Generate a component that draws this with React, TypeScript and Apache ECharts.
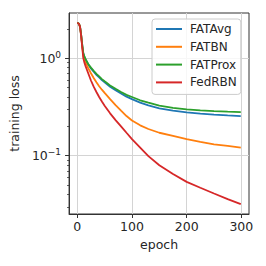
import React, { useEffect, useRef } from "react";
import * as echarts from "echarts";

const epochs = [0, 3, 5, 7, 9, 11, 13, 15, 20, 25, 30, 35, 40, 45, 50, 60, 70, 80, 90, 100, 115, 130, 150, 175, 200, 225, 250, 275, 299];

const fatAvg = [2.3, 2.25, 2.1, 1.75, 1.37, 1.12, 1.03, 0.97, 0.86, 0.785, 0.725, 0.675, 0.635, 0.595, 0.565, 0.51, 0.47, 0.435, 0.403, 0.38, 0.35, 0.328, 0.306, 0.29, 0.278, 0.27, 0.264, 0.259, 0.255];
const fatBN = [2.3, 2.25, 2.1, 1.72, 1.33, 1.07, 0.96, 0.9, 0.79, 0.7, 0.625, 0.565, 0.515, 0.475, 0.44, 0.38, 0.33, 0.29, 0.255, 0.23, 0.205, 0.188, 0.172, 0.16, 0.148, 0.139, 0.131, 0.126, 0.121];
const fatProx = [2.3, 2.25, 2.1, 1.75, 1.38, 1.13, 1.04, 0.98, 0.87, 0.8, 0.74, 0.69, 0.65, 0.61, 0.58, 0.525, 0.485, 0.45, 0.42, 0.4, 0.37, 0.35, 0.327, 0.31, 0.298, 0.292, 0.287, 0.283, 0.28];
const fedRBN = [2.3, 2.25, 2.1, 1.7, 1.3, 1.0, 0.9, 0.83, 0.7, 0.59, 0.51, 0.45, 0.4, 0.36, 0.325, 0.272, 0.232, 0.2, 0.172, 0.148, 0.121, 0.099, 0.08, 0.065, 0.054, 0.047, 0.041, 0.036, 0.032];

const seriesNames = ["FATAvg", "FATBN", "FATProx", "FedRBN"];
const seriesValues = [fatAvg, fatBN, fatProx, fedRBN];
const seriesColors = ["#1f77b4", "#ff7f0e", "#2ca02c", "#d62728"];

const xTicks = [0, 100, 200, 300];
const yMajorTicks = [0.1, 1];
const yMinorTicks = [0.03, 0.04, 0.05, 0.06, 0.07, 0.08, 0.09, 0.2, 0.3, 0.4, 0.5, 0.6, 0.7, 0.8, 0.9, 2];

const FONT = "DejaVu Sans";
const TEXT = "#262626";
const SPINE = "#333333";
const GRID = "#d4d4d4";

export default function App() {
  const ref = useRef<HTMLDivElement>(null);
  useEffect(() => {
    if (!ref.current) return;
    const chart = echarts.init(ref.current, undefined, { renderer: "svg" });
    const supLabel = (v: number) => {
      const e = Math.round(Math.log10(v));
      const s = e < 0 ? "\u2212" + String(-e) : String(e);
      return "{b|10}{s|" + s + "}";
    };
    chart.setOption({
      animation: false,
      backgroundColor: "#ffffff",
      textStyle: { fontFamily: FONT },
      grid: {
        left: 69,
        top: 13,
        right: 17,
        bottom: 52,
        show: true,
        borderColor: SPINE,
        borderWidth: 1,
        backgroundColor: "transparent",
      },
      legend: {
        orient: "vertical",
        left: 152,
        top: 19,
        data: seriesNames.map((n) => ({ name: n, icon: "rect" })),
        itemWidth: 26,
        itemHeight: 2,
        itemGap: 3.8,
        padding: [3, 4, 5, 4],
        backgroundColor: "rgba(255,255,255,0.8)",
        borderColor: "#cccccc",
        borderWidth: 1,
        borderRadius: 3,
        textStyle: { fontFamily: FONT, fontSize: 12, color: TEXT, lineHeight: 14, padding: [0, 0, 0, 3] },
      },
      xAxis: {
        type: "value",
        min: -15,
        max: 314,
        name: "epoch",
        nameLocation: "middle",
        nameGap: 24,
        nameTextStyle: { fontFamily: FONT, fontSize: 12.5, color: TEXT },
        axisLine: { show: true, onZero: false, lineStyle: { color: SPINE, width: 1 } },
        axisTick: { show: true, customValues: xTicks, length: 4, lineStyle: { color: SPINE } },
        axisLabel: { customValues: xTicks, margin: 6, fontFamily: FONT, fontSize: 12.5, color: TEXT },
        splitLine: { show: true, lineStyle: { color: GRID, width: 1 } },
      },
      yAxis: [
        {
          type: "log",
          logBase: 10,
          min: 0.0253,
          max: 2.9,
          name: "training loss",
          nameLocation: "middle",
          nameRotate: 90,
          nameGap: 42,
          nameTextStyle: { fontFamily: FONT, fontSize: 12.5, color: TEXT },
          axisLine: { show: true, onZero: false, lineStyle: { color: SPINE, width: 1 } },
          axisTick: { show: true, customValues: yMajorTicks, length: 4, lineStyle: { color: SPINE } },
          axisLabel: {
            customValues: yMajorTicks,
            margin: 8,
            formatter: (v: number) => supLabel(v),
            rich: {
              b: { fontFamily: FONT, fontSize: 12.5, color: TEXT, lineHeight: 16 },
              s: { fontFamily: FONT, fontSize: 9, color: TEXT, lineHeight: 10, verticalAlign: "top" },
            },
          },
          splitLine: { show: true, lineStyle: { color: GRID, width: 1 } },
        },
        {
          type: "log",
          logBase: 10,
          min: 0.0253,
          max: 2.9,
          position: "left",
          axisLine: { show: false, onZero: false },
          axisTick: { show: true, customValues: yMinorTicks, length: 2, lineStyle: { color: SPINE, width: 0.8 } },
          axisLabel: { show: false },
          splitLine: { show: false },
        },
      ],
      series: seriesNames.map((name, i) => ({
        name,
        type: "line",
        yAxisIndex: 0,
        showSymbol: false,
        symbol: "none",
        color: seriesColors[i],
        lineStyle: { color: seriesColors[i], width: 1.8 },
        data: epochs.map((e, j) => [e, seriesValues[i][j]]),
      })),
    });
    return () => chart.dispose();
  }, []);
  return <div ref={ref} style={{ position: "absolute", left: 0, top: 0, width: 266, height: 266 }} />;
}
